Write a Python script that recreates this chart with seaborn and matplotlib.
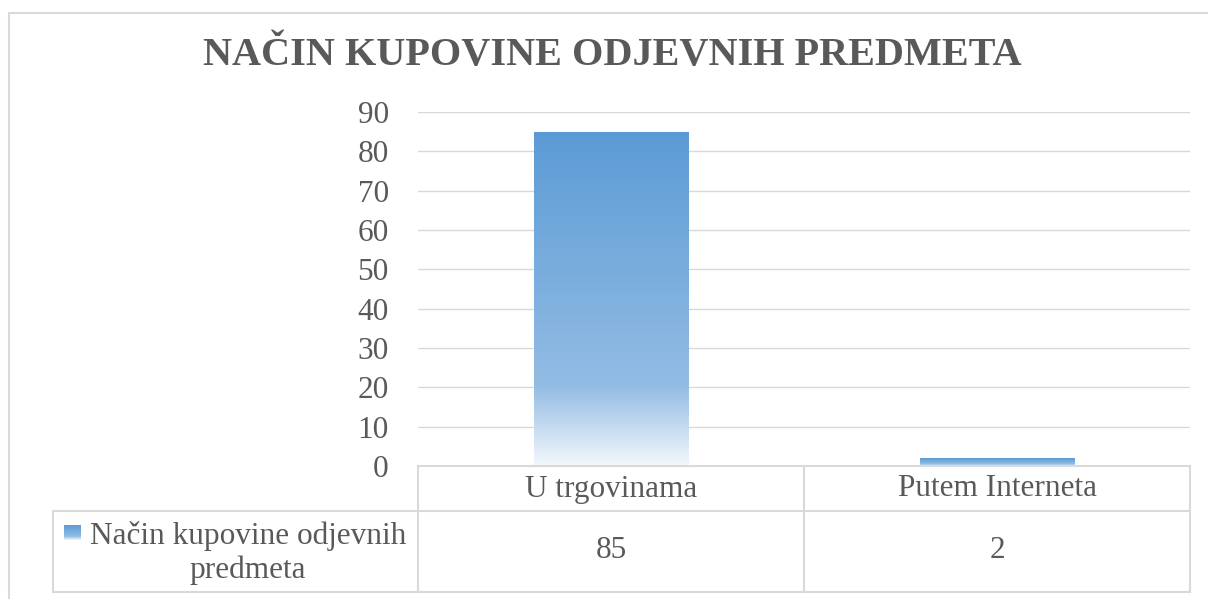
import numpy as np
import pandas as pd
import matplotlib
matplotlib.use("Agg")
import matplotlib.pyplot as plt
import seaborn as sns
from matplotlib.colors import LinearSegmentedColormap
from matplotlib.lines import Line2D

# data
categories = ["U trgovinama", "Putem Interneta"]
values = [85, 2]
series_name = "Način kupovine odjevnih\npredmeta"
title = "NAČIN KUPOVINE ODJEVNIH PREDMETA"
y_ticks = list(range(0, 91, 10))

df = pd.DataFrame({"nacin": categories, "broj": values})

sns.set_theme(style="white")
plt.rcParams["font.family"] = ["Liberation Serif", "DejaVu Serif"]

W, H = 1208, 599
text_color = "#595959"
line_color = "#D9D9D9"

fig = plt.figure(figsize=(W / 100, H / 100), dpi=100)


def fx(x):
    return x / W


def fy(y):
    return 1 - y / H


ax = fig.add_axes([fx(418), fy(466), fx(1190) - fx(418), fy(112) - fy(466)])

sns.barplot(data=df, x="nacin", y="broj", width=0.40, color="#5B9BD5", ax=ax, zorder=2)

# gradient fill: blue at the top, fading to near-white at the bottom of each bar
grad = LinearSegmentedColormap.from_list(
    "bar_grad", [(0.0, "#F3F7FC"), (0.24, "#93BCE4"), (1.0, "#5B9BD5")])
for bar in ax.patches:
    x0, y0 = bar.get_x(), bar.get_y()
    w, h = bar.get_width(), bar.get_height()
    bar.set_facecolor("none")
    bar.set_edgecolor("none")
    img = ax.imshow(np.linspace(0, 1, 256).reshape(-1, 1), cmap=grad, origin="lower",
                    extent=[x0, x0 + w, y0, y0 + h], aspect="auto", zorder=2)
    img.set_clip_path(bar)

ax.set_xlim(-0.5, len(categories) - 0.5)
ax.set_ylim(0, 90)
ax.set_yticks(y_ticks)
ax.set_yticklabels([str(t) for t in y_ticks], fontsize=22.5, color=text_color)
ax.tick_params(axis="y", length=0, pad=21)
ax.set_xticks([])
ax.set_xlabel("")
ax.set_ylabel("")
ax.yaxis.grid(True, color=line_color, linewidth=1.0, zorder=0)
ax.set_axisbelow(True)
for s in ["top", "right", "left", "bottom"]:
    ax.spines[s].set_visible(False)

fig.text(0.5 * (fx(203) + fx(1022)), fy(56), title, ha="center", va="center",
         fontsize=29, fontweight="bold", color=text_color)


def hline(y, x0, x1, color=line_color, lw=1.5):
    fig.add_artist(Line2D([fx(x0), fx(x1)], [fy(y), fy(y)], color=color, lw=lw))


def vline(x, y0, y1, color=line_color, lw=1.5):
    fig.add_artist(Line2D([fx(x), fx(x)], [fy(y0), fy(y1)], color=color, lw=lw))


# outer chart border
hline(13, 9, W)
vline(9, 13, H)

# data table
hline(466, 418, 1190)
hline(511, 53, 1190)
hline(592, 53, 1190)
vline(53, 511, 592)
cell_w = (1190 - 418) / len(categories)
for i in range(len(categories) + 1):
    vline(418 + i * cell_w, 466, 592)

for i, (cat, val) in enumerate(zip(categories, values)):
    cx = 418 + (i + 0.5) * cell_w
    fig.text(fx(cx), fy(489), cat, ha="center", va="center", fontsize=22.5, color=text_color)
    fig.text(fx(cx), fy(551), str(val), ha="center", va="center", fontsize=22.5, color=text_color)

fig.text(fx(248), fy(553), series_name, ha="center", va="center",
         fontsize=22.5, color=text_color, linespacing=1.22)

# legend swatch
sw = fig.add_axes([fx(64), fy(540), fx(81) - fx(64), fy(525) - fy(540)])
sw.imshow(np.linspace(0, 1, 64).reshape(-1, 1), cmap=grad, origin="lower", aspect="auto")
sw.axis("off")

fig.savefig("out.png", dpi=100)
